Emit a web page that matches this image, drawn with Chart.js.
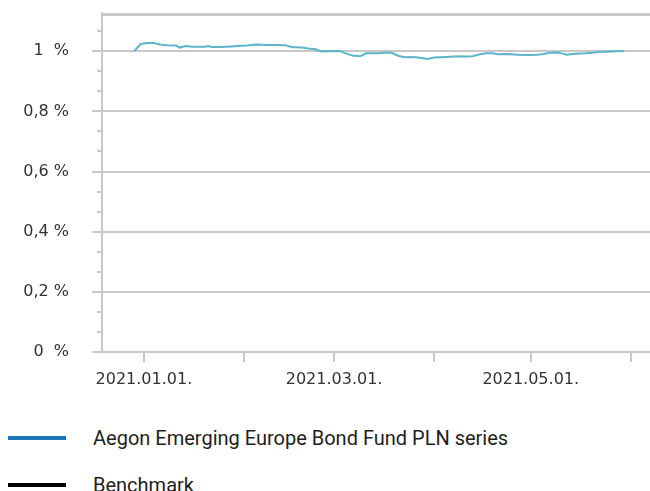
<!DOCTYPE html>
<html><head><meta charset="utf-8">
<script src="https://cdn.jsdelivr.net/npm/chart.js@4/dist/chart.umd.min.js"></script>
<style>
html,body{margin:0;padding:0;background:#fff;width:650px;height:491px;overflow:hidden}
#wrap{position:absolute;left:0;top:0;width:650px;height:400px}
.item{position:absolute;left:0;width:650px;height:30px}
.sw{position:absolute;left:8px;width:58px;height:4px;top:13px}
.lbl{position:absolute;left:93px;top:0;line-height:30px;white-space:nowrap;font-family:Roboto,"Noto Sans",sans-serif;font-size:20px;color:#1e1e1e}
</style></head>
<body>
<div id="wrap"><canvas id="c" width="650" height="400"></canvas></div>
<div id="legend"></div>
<script>
// ---- data ----
const seriesNames = ['Aegon Emerging Europe Bond Fund PLN series', 'Benchmark'];
const legendColors = ['#1a76bd', '#000000'];
const fundDates = [
 '2020-12-29','2020-12-31','2021-01-02','2021-01-04','2021-01-06','2021-01-08','2021-01-10','2021-01-11',
 '2021-01-12','2021-01-14','2021-01-16','2021-01-18','2021-01-20','2021-01-21','2021-01-22','2021-01-25',
 '2021-01-28','2021-01-31','2021-02-02','2021-02-05','2021-02-08','2021-02-11','2021-02-14','2021-02-16',
 '2021-02-17','2021-02-19','2021-02-21','2021-02-23','2021-02-25','2021-02-27','2021-03-01','2021-03-03',
 '2021-03-05','2021-03-07','2021-03-09','2021-03-11','2021-03-13','2021-03-15','2021-03-17','2021-03-19',
 '2021-03-21','2021-03-23','2021-03-25','2021-03-27','2021-03-29','2021-03-30','2021-04-01','2021-04-03',
 '2021-04-05','2021-04-07','2021-04-09','2021-04-11','2021-04-13','2021-04-15','2021-04-17','2021-04-19',
 '2021-04-21','2021-04-23','2021-04-25','2021-04-27','2021-04-29','2021-05-01','2021-05-03','2021-05-05',
 '2021-05-07','2021-05-09','2021-05-11','2021-05-12','2021-05-14','2021-05-16','2021-05-18','2021-05-20',
 '2021-05-22','2021-05-24','2021-05-26','2021-05-28','2021-05-30'
];
const fundValues = [
 1.000,1.024,1.027,1.027,1.022,1.020,1.019,1.019,
 1.012,1.017,1.015,1.015,1.015,1.017,1.014,1.014,
 1.016,1.018,1.019,1.022,1.021,1.021,1.020,1.013,
 1.013,1.012,1.009,1.007,0.999,1.000,1.001,1.000,
 0.991,0.985,0.983,0.993,0.993,0.993,0.996,0.994,
 0.984,0.980,0.981,0.979,0.976,0.974,0.979,0.980,
 0.981,0.982,0.983,0.982,0.983,0.989,0.993,0.993,
 0.990,0.991,0.990,0.988,0.987,0.987,0.988,0.991,
 0.995,0.996,0.992,0.988,0.991,0.992,0.993,0.995,
 0.997,0.998,0.999,1.000,1.001
];
const benchmarkValues = [];
const yTickValues = [0, 0.2, 0.4, 0.6, 0.8, 1];
const yMinorStep = 1 / 15;
const yMax = 1.127;
const xTickDates = ['2021-01-01','2021-02-01','2021-03-01','2021-04-01','2021-05-01','2021-06-01'];
const xLabelDates = ['2021-01-01','2021-03-01','2021-05-01'];
const xMinDate = '2020-12-19';
const xMaxDate = '2021-06-07';

// ---- helpers ----
const base = Date.UTC(2021, 0, 1);
function dayOf(s) { const p = s.split('-').map(Number); return (Date.UTC(p[0], p[1] - 1, p[2]) - base) / 86400000; }
function fmtDate(s) { return s.replace(/-/g, '.') + '.'; }
const gridCol = '#c8c8c8';

const frameAndMinor = {
  id: 'frameAndMinor',
  afterDraw(chart) {
    const ctx = chart.ctx, y = chart.scales.y;
    const left = y.right, top = y.top;
    ctx.save();
    ctx.fillStyle = gridCol;
    ctx.fillRect(left - 1, top, chart.width - left + 1, 3);
    for (let k = 0; k * yMinorStep < yMax; k++) {
      if (k % 3 === 0) continue;
      const py = Math.round(y.getPixelForValue(k * yMinorStep));
      ctx.fillRect(left - 5, py - 1, 5, 2);
    }
    ctx.restore();
  }
};

new Chart(document.getElementById('c'), {
  type: 'line',
  data: {
    datasets: [
      { label: seriesNames[0], data: fundDates.map((d, i) => ({ x: dayOf(d), y: fundValues[i] })),
        borderColor: '#5cb4cf', borderWidth: 2, pointRadius: 0, tension: 0, fill: false },
      { label: seriesNames[1], data: benchmarkValues, borderColor: '#000', borderWidth: 2, pointRadius: 0 }
    ]
  },
  options: {
    responsive: false, animation: false, devicePixelRatio: 1,
    layout: { padding: { top: 13, right: 0, bottom: 0, left: 0 } },
    plugins: { legend: { display: false }, tooltip: { enabled: false } },
    scales: {
      x: {
        type: 'linear', min: dayOf(xMinDate), max: dayOf(xMaxDate),
        afterBuildTicks(s) { s.ticks = xTickDates.map(d => ({ value: dayOf(d) })); },
        afterFit(s) { s.height = 48; s.paddingLeft = 0; s.paddingRight = 0; },
        ticks: {
          autoSkip: false, maxRotation: 0, padding: 8, color: '#333',
          font: { family: 'DejaVu Sans', size: 16 },
          callback(v) { const d = xTickDates.find(t => dayOf(t) === v); return d && xLabelDates.includes(d) ? fmtDate(d) : ''; }
        },
        grid: { drawOnChartArea: false, tickLength: 10, color: gridCol, lineWidth: 2 },
        border: { color: gridCol, width: 2 }
      },
      y: {
        min: 0, max: yMax,
        afterBuildTicks(s) { s.ticks = yTickValues.map(v => ({ value: v })); },
        afterFit(s) { s.width = 102; s.paddingTop = 0; s.paddingBottom = 0; },
        ticks: {
          autoSkip: false, padding: 23, color: '#333',
          font: { family: 'DejaVu Sans', size: 16 },
          callback(v) {
            return Number.isInteger(v) ? v + '  %' : String(v).replace('.', ',') + ' %';
          }
        },
        grid: { tickLength: 10, lineWidth: 2, color: gridCol },
        border: { color: gridCol, width: 2 }
      }
    }
  },
  plugins: [frameAndMinor]
});

// HTML legend built from the series
const legend = document.getElementById('legend');
const legendTops = [423, 470];
seriesNames.forEach((n, i) => {
  const it = document.createElement('div'); it.className = 'item'; it.style.top = legendTops[i] + 'px';
  const sw = document.createElement('div'); sw.className = 'sw'; sw.style.background = legendColors[i];
  const lb = document.createElement('div'); lb.className = 'lbl'; lb.textContent = n;
  it.appendChild(sw); it.appendChild(lb); legend.appendChild(it);
});
</script>
</body></html>
